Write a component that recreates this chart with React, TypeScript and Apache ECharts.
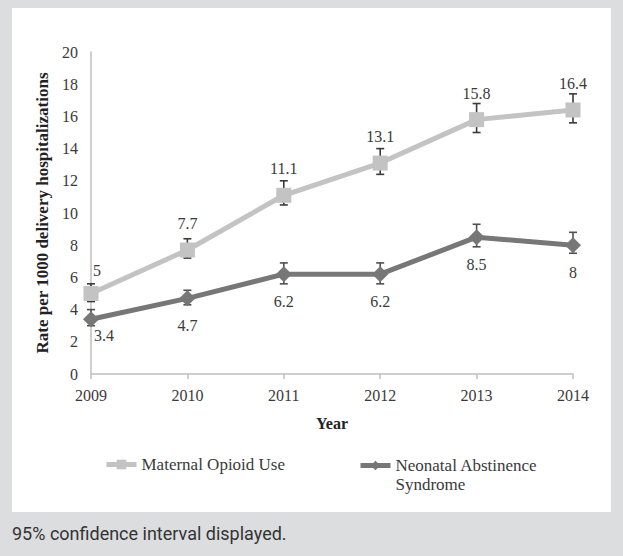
import React, { useEffect, useRef } from "react";
import * as echarts from "echarts";

const years = ["2009", "2010", "2011", "2012", "2013", "2014"];
const maternal = [5, 7.7, 11.1, 13.1, 15.8, 16.4];
const maternalLow = [4.5, 7.2, 10.5, 12.4, 15.0, 15.6];
const maternalHigh = [5.6, 8.4, 12.0, 14.0, 16.8, 17.4];
const nas = [3.4, 4.7, 6.2, 6.2, 8.5, 8];
const nasLow = [3.0, 4.3, 5.6, 5.6, 7.9, 7.5];
const nasHigh = [4.0, 5.2, 6.9, 6.9, 9.3, 8.8];
const yTicks = [0, 2, 4, 6, 8, 10, 12, 14, 16, 18, 20];

const SERIF = "'Liberation Serif', 'Times New Roman', Times, serif";

function errorSeries(low: number[], high: number[], color: string) {
  return {
    type: "custom",
    z: 1,
    silent: true,
    data: low.map((l, i) => [i, l, high[i]]),
    renderItem: (params: any, api: any) => {
      const x = api.value(0);
      const lo = api.coord([x, api.value(1)]);
      const hi = api.coord([x, api.value(2)]);
      const w = 4;
      const style = { stroke: color, lineWidth: 1.6 };
      return {
        type: "group",
        children: [
          { type: "line", shape: { x1: lo[0], y1: lo[1], x2: hi[0], y2: hi[1] }, style },
          { type: "line", shape: { x1: lo[0] - w, y1: lo[1], x2: lo[0] + w, y2: lo[1] }, style },
          { type: "line", shape: { x1: hi[0] - w, y1: hi[1], x2: hi[0] + w, y2: hi[1] }, style },
        ],
      };
    },
  };
}

export default function App() {
  const ref = useRef<HTMLDivElement>(null);
  useEffect(() => {
    if (!ref.current) return;
    const chart = echarts.init(ref.current, undefined, { renderer: "svg" });
    const labelStyle = { fontFamily: SERIF, fontSize: 16, color: "#3a3a3a" };
    chart.setOption({
      animation: false,
      backgroundColor: "#dcdddf",
      textStyle: { fontFamily: SERIF },
      graphic: [
        {
          type: "rect",
          z: -10,
          shape: { x: 12, y: 8, width: 599, height: 504 },
          style: { fill: "#ffffff" },
        },
        {
          type: "text",
          left: 12,
          top: 524,
          style: {
            text: "95% confidence interval displayed.",
            font: "18px Roboto, sans-serif",
            fill: "#333333",
          },
        },
      ],
      grid: { left: 91, right: 50, top: 52, bottom: 182, containLabel: false },
      legend: [
        {
          data: ["Maternal Opioid Use"],
          left: 104,
          top: 456,
          padding: 0,
          itemWidth: 30,
          itemHeight: 12,
          lineStyle: { width: 5 },
          textStyle: { fontFamily: SERIF, fontSize: 17, color: "#3a3a3a" },
        },
        {
          data: ["Neonatal Abstinence Syndrome"],
          left: 358,
          top: 437,
          padding: 0,
          itemWidth: 30,
          itemHeight: 12,
          lineStyle: { width: 5 },
          formatter: () => " \nNeonatal Abstinence\nSyndrome",
          textStyle: {
            fontFamily: SERIF,
            fontSize: 17,
            color: "#3a3a3a",
            lineHeight: 19,
          },
        },
      ],
      xAxis: {
        type: "category",
        data: years,
        boundaryGap: false,
        axisLine: { lineStyle: { color: "#bfbfbf", width: 1.5 } },
        axisTick: { show: true, length: 5, lineStyle: { color: "#bfbfbf", width: 1.5 } },
        axisLabel: { fontFamily: SERIF, fontSize: 16, color: "#3a3a3a", margin: 13 },
        name: "Year",
        nameLocation: "middle",
        nameGap: 41,
        nameTextStyle: { fontFamily: SERIF, fontSize: 16, fontWeight: "bold", color: "#222222" },
      },
      yAxis: {
        type: "value",
        min: yTicks[0],
        max: yTicks[yTicks.length - 1],
        interval: yTicks[1] - yTicks[0],
        splitLine: { show: false },
        axisLine: { show: true, lineStyle: { color: "#bfbfbf", width: 1.5 } },
        axisTick: { show: false },
        axisLabel: { fontFamily: SERIF, fontSize: 16, color: "#3a3a3a", margin: 13 },
        name: "Rate per 1000 delivery hospitalizations",
        nameLocation: "middle",
        nameRotate: 90,
        nameGap: 38,
        nameTextStyle: { fontFamily: SERIF, fontSize: 17, fontWeight: "bold", color: "#222222" },
      },
      series: [
        errorSeries(maternalLow, maternalHigh, "#3a3a3a"),
        errorSeries(nasLow, nasHigh, "#505050"),
        {
          name: "Maternal Opioid Use",
          type: "line",
          z: 3,
          data: maternal.map((v, i) =>
            i === 0 ? { value: v, label: { distance: 8, offset: [6, 0] } } : v
          ),
          symbol: "rect",
          symbolSize: 15,
          lineStyle: { color: "#c3c3c3", width: 5 },
          itemStyle: { color: "#c3c3c3" },
          label: { show: true, position: "top", distance: 11, ...labelStyle },
        },
        {
          name: "Neonatal Abstinence Syndrome",
          type: "line",
          z: 3,
          data: nas.map((v, i) =>
            i === 0 ? { value: v, label: { distance: 0, offset: [13, 0] } } : v
          ),
          symbol: "diamond",
          symbolSize: 16,
          lineStyle: { color: "#777777", width: 5 },
          itemStyle: { color: "#777777" },
          label: { show: true, position: "bottom", distance: 11, ...labelStyle },
        },
      ],
    });
    return () => chart.dispose();
  }, []);
  return (
    <div
      ref={ref}
      style={{ position: "fixed", left: 0, top: 0, width: 623, height: 556 }}
    />
  );
}
